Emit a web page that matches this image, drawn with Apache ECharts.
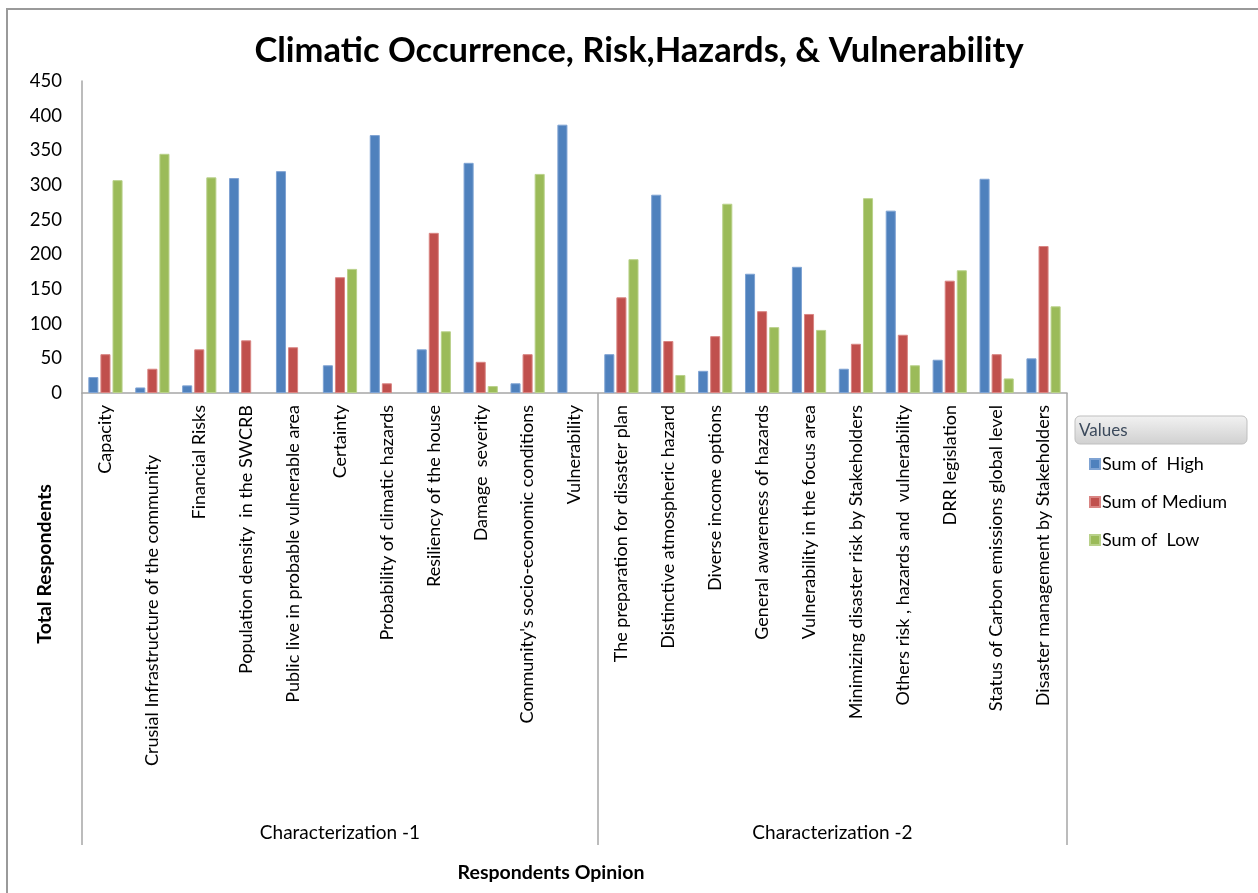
<!DOCTYPE html>
<html>
<head>
<meta charset="utf-8">
<script src="https://cdn.jsdelivr.net/npm/echarts@6/dist/echarts.min.js"></script>
<style>html,body{margin:0;padding:0;background:#fff;}#c{width:1258px;height:893px;}</style>
</head>
<body>
<div id="c"></div>
<script>
const categories = [
  "Capacity",
  "Crusial Infrastructure of the community",
  "Financial Risks",
  "Population density  in the SWCRB",
  "Public live in probable vulnerable area",
  "Certainty",
  "Probability of climatic hazards",
  "Resiliency of the house",
  "Damage  severity",
  "Community's socio-economic conditions",
  "Vulnerability",
  "The preparation for disaster plan",
  "Distinctive atmospheric hazard",
  "Diverse income options",
  "General awareness of hazards",
  "Vulnerability in the focus area",
  "Minimizing disaster risk by Stakeholders",
  "Others risk , hazards and  vulnerability",
  "DRR legislation",
  "Status of Carbon emissions global level",
  "Disaster management by Stakeholders"
];
const groupNames = ["Characterization -1", "Characterization -2"];
const groupSizes = [11, 10];
const seriesNames = ["Sum of  High", "Sum of Medium", "Sum of  Low"];
const high   = [23, 8, 11, 310, 320, 40, 372, 63, 332, 14, 387, 56, 286, 32, 172, 182, 35, 263, 48, 309, 50];
const medium = [56, 35, 63, 76, 66, 167, 14, 231, 45, 56, null, 138, 75, 82, 118, 114, 71, 84, 162, 56, 212];
const low    = [307, 345, 311, null, null, 179, null, 89, 10, 316, null, 193, 26, 273, 95, 91, 281, 40, 177, 21, 125];
const yTicks = { min: 0, max: 450, interval: 50 };
const titleText = "Climatic Occurrence, Risk,Hazards, & Vulnerability";
const yName = "Total Respondents";
const xName = "Respondents Opinion";

const FONT = "Lato, 'Open Sans', sans-serif";
const colors = ["#4F81BD", "#C0504D", "#9BBB59"];
const borders = ["#7FA3D3", "#D98583", "#B9D18A"];

const total = categories.length;
const bounds = [0];
groupSizes.forEach(s => bounds.push(bounds[bounds.length - 1] + s));
const mids = groupSizes.map((s, i) => bounds[i] + s / 2);

const chart = echarts.init(document.getElementById('c'), null, { renderer: 'canvas' });
const grid = { left: 82, right: 191, top: 81, bottom: 500 };

const option = {
  backgroundColor: '#ffffff',
  animation: false,
  textStyle: { fontFamily: FONT },
  title: {
    text: titleText,
    left: 634, top: 28, textAlign: 'center',
    textStyle: { fontFamily: FONT, fontWeight: 'bold', fontSize: 34.5, color: '#000' }
  },
  grid: grid,
  legend: {
    orient: 'vertical',
    left: 1084, top: 450,
    itemWidth: 10, itemHeight: 10, itemGap: 20,
    icon: 'rect',
    textStyle: { fontFamily: FONT, fontSize: 18, color: '#000', padding: [0, 0, 0, -3] },
    data: seriesNames
  },
  xAxis: [
    {
      type: 'category',
      data: categories,
      position: 'bottom',
      axisLine: { show: true, lineStyle: { color: '#A6A6A6', width: 1.5 } },
      axisTick: { show: false },
      axisLabel: {
        rotate: 90, interval: 0, margin: 12, fontFamily: FONT, fontSize: 18, color: '#000',
        formatter: function (v, i) { return i === 1 ? '{off|' + v + '}' : v; },
        rich: { off: { fontFamily: FONT, fontSize: 18, color: '#000', padding: [0, 50, 0, 0] } }
      }
    },
    {
      type: 'value',
      min: 0, max: total,
      position: 'bottom',
      offset: 452,
      axisLine: { show: false },
      splitLine: { show: false },
      axisTick: {
        show: true, inside: true, length: 452,
        customValues: bounds,
        lineStyle: { color: '#A6A6A6', width: 1.5 }
      },
      axisLabel: {
        inside: true, margin: 3,
        customValues: mids,
        fontFamily: FONT, fontSize: 19, color: '#000',
        verticalAlign: 'bottom',
        formatter: function (v) {
          const i = mids.findIndex(m => Math.abs(m - v) < 1e-6);
          return i >= 0 ? groupNames[i] : '';
        }
      }
    }
  ],
  yAxis: {
    type: 'value',
    min: yTicks.min, max: yTicks.max, interval: yTicks.interval,
    axisLine: { show: true, lineStyle: { color: '#A6A6A6', width: 1.5 } },
    axisTick: { show: false },
    splitLine: { show: false },
    axisLabel: { margin: 20, fontFamily: FONT, fontSize: 18.5, color: '#000' }
  },
  series: [high, medium, low].map((d, i) => ({
    name: seriesNames[i],
    type: 'bar',
    xAxisIndex: 0,
    data: d,
    barGap: '20%',
    barCategoryGap: '27%',
    itemStyle: { color: colors[i], borderColor: borders[i], borderWidth: 1 }
  })),
  graphic: [
    {
      type: 'rect', silent: true, z: -1,
      shape: { x: 7, y: 9, width: 1300, height: 1000 },
      style: { fill: 'none', stroke: '#9A9A9A', lineWidth: 2 }
    },
    {
      type: 'text', silent: true,
      x: 45, y: 564, rotation: Math.PI / 2,
      style: { text: yName, fontFamily: FONT, fontWeight: 'bold', fontSize: 19.5, fill: '#000', align: 'center', verticalAlign: 'middle' }
    },
    {
      type: 'text', silent: true,
      x: 551, y: 873,
      style: { text: xName, fontFamily: FONT, fontWeight: 'bold', fontSize: 19.5, fill: '#000', align: 'center', verticalAlign: 'middle' }
    },
    {
      type: 'rect', silent: true,
      shape: { x: 1075, y: 416, width: 172, height: 28, r: 5 },
      style: {
        fill: new echarts.graphic.LinearGradient(0, 0, 0, 1, [
          { offset: 0, color: '#F2F2F2' }, { offset: 1, color: '#D0D0D0' }
        ]),
        stroke: '#BFBFBF', lineWidth: 1
      }
    },
    {
      type: 'text', silent: true,
      x: 1079, y: 431,
      style: { text: 'Values', fontFamily: FONT, fontSize: 17, fill: '#3C4A5C', align: 'left', verticalAlign: 'middle' }
    }
  ]
};
chart.setOption(option);
</script>
</body>
</html>
